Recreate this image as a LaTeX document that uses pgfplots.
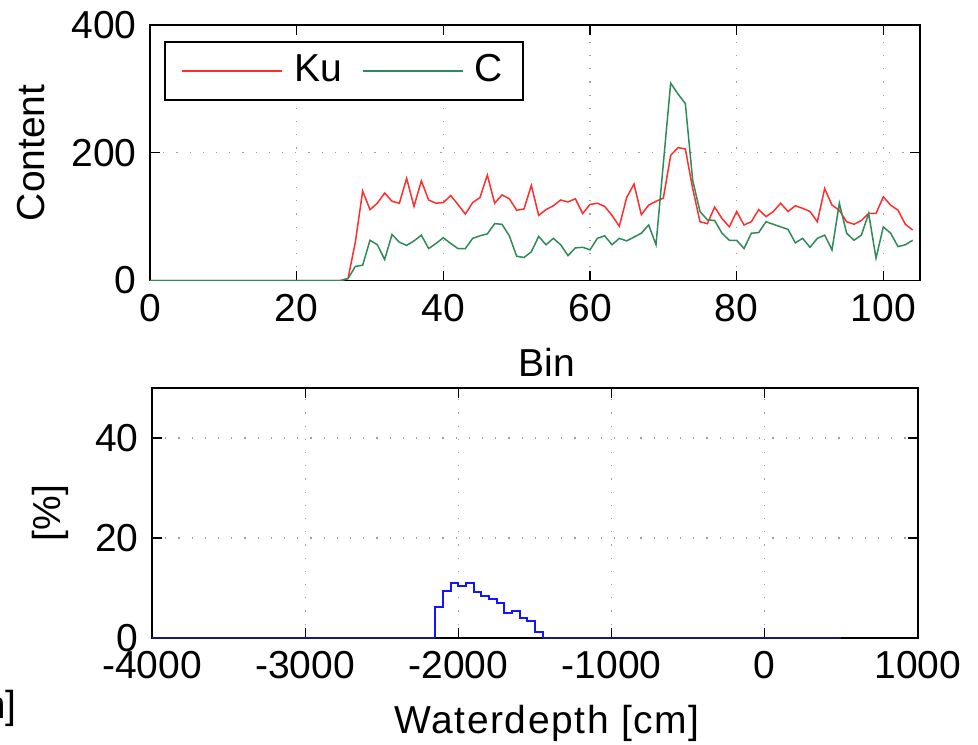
\documentclass[border=0pt]{standalone}
\usepackage{fontspec}
\setmainfont{Liberation Sans}
\usepackage{pgfplots}
\usepackage{pgfplotstable}
\pgfplotsset{compat=1.18}

\definecolor{kured}{RGB}{255,45,45}
\definecolor{cgreen}{RGB}{46,139,87}
\definecolor{histblue}{RGB}{20,20,255}
\definecolor{navyline}{RGB}{25,25,110}

% Waveform content per bin for the two bands
\pgfplotstableread{
bin ku c
0 0 0
1 0 0
2 0 0
3 0 0
4 0 0
5 0 0
6 0 0
7 0 0
8 0 0
9 0 0
10 0 0
11 0 0
12 0 0
13 0 0
14 0 0
15 0 0
16 0 0
17 0 0
18 0 0
19 0 0
20 0 0
21 0 0
22 0 0
23 0 0
24 0 0
25 0 0
26 0 0
27 3 3
28 60 22
29 140 24
30 111 63
31 121 56
32 137 33
33 124 72
34 121 60
35 160 55
36 116 62
37 156 71
38 126 50
39 121 58
40 122 67
41 133 58
42 119 50
43 104 50
44 122 66
45 130 70
46 165 73
47 121 89
48 134 88
49 128 70
50 110 38
51 112 36
52 149 45
53 102 69
54 111 56
55 117 66
56 126 56
57 123 39
58 128 51
59 105 52
60 119 48
61 121 66
62 116 70
63 102 56
64 85 66
65 130 62
66 151 68
67 103 74
68 118 87
69 124 56
70 129 183
71 196 309
72 208 292
73 206 277
74 144 157
75 92 108
76 89 95
77 115 94
78 97 74
79 84 63
80 108 63
81 87 50
82 92 74
83 111 75
84 100 92
85 108 88
86 121 84
87 108 80
88 117 59
89 113 66
90 108 52
91 92 66
92 144 71
93 118 48
94 110 121
95 92 74
96 88 63
97 94 71
98 105 105
99 105 35
100 131 84
101 118 74
102 110 53
103 88 56
104 79 63
}\contenttable

% Waterdepth histogram, 50 cm bins (left edges)
\pgfplotstableread{
depth pct
-2150 0
-2150 6.3
-2100 9.5
-2050 11.1
-2000 10.5
-1950 11.1
-1900 9.3
-1850 8.5
-1800 7.9
-1750 7.1
-1700 5.1
-1650 5.5
-1600 4.1
-1550 3.5
-1500 1.3
-1450 0
}\histtable

\pgfplotsset{
  matlab/.style={
    scale only axis,
    axis line style={line width=0.9pt},
    tick style={black, line width=0.6pt},
    major tick length=5pt,
    tick align=inside,
    grid=major,
    grid style={gray!75, line width=0.55pt, dash pattern=on 0.6pt off 6pt},
    /pgf/number format/assume math mode=true,
    /pgf/number format/1000 sep={},
    scaled ticks=false,
    xlabel style={xshift=6pt},
  }
}

\begin{document}
\fontsize{19.5}{23}\selectfont
\begin{tikzpicture}
\useasboundingbox (0pt,0pt) rectangle (489pt,-372pt);

% Upper panel: content per bin
\begin{axis}[matlab,
  at={(75pt,-140.25pt)}, anchor=south west,
  width=385pt, height=127.75pt,
  xmin=0, xmax=105, ymin=0, ymax=400,
  xtick={0,20,...,100}, ytick={0,200,400},
  xlabel={Bin}, ylabel={Content},
  legend columns=2,
  legend style={at={(0.0195,0.9335)}, anchor=north west,
    name=bandlegend, draw=none,
    inner xsep=8pt, inner ysep=4pt,
    font=\fontsize{19.5}{23}\selectfont},
  legend image post style={xscale=2.93, xshift=1.5pt},
  /tikz/every even column/.append style={column sep=8pt},
]
\addplot[color=kured, line width=0.75pt] table[x=bin, y=ku] {\contenttable};
\addlegendentry{\hspace{4pt}Ku}
\addplot[color=cgreen, line width=0.75pt] table[x=bin, y=c] {\contenttable};
\addlegendentry{\hspace{3pt}C}
\end{axis}
% heavier frame round the legend
\draw[line width=0.9pt] (bandlegend.south west) rectangle (bandlegend.north east);

% Lower panel: waterdepth distribution
\begin{axis}[matlab,
  at={(76pt,-319pt)}, anchor=south west,
  width=383pt, height=125pt,
  xmin=-4000, xmax=1000, ymin=0, ymax=50,
  xtick={-4000,-3000,...,1000}, ytick={0,20,40},
  xlabel={\addfontfeatures{LetterSpace=4}Waterdepth [cm]}, ylabel={[\%]},
]
\addplot[color=navyline, line width=0.9pt] coordinates {(-4000,0) (-2150,0)};
\addplot[color=navyline, line width=0.9pt] coordinates {(-1450,0) (500,0)};
\addplot[color=histblue, line width=1pt, const plot mark left] table[x=depth, y=pct] {\histtable};
\end{axis}

% label of the neighbouring panel, cut by the page edge
\node[anchor=base east, inner sep=0pt] at (8.5pt,-359pt) {[cm]};
\end{tikzpicture}
\end{document}
